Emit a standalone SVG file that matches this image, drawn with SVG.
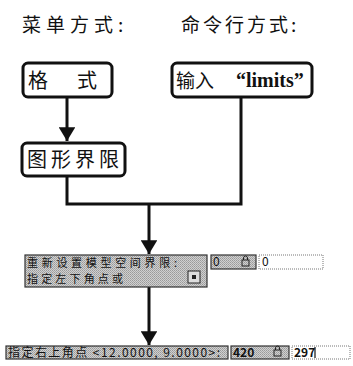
<svg xmlns="http://www.w3.org/2000/svg" width="353" height="366" viewBox="0 0 353 366">
<defs>
<style>
.t{font-family:"Noto Sans CJK SC","Liberation Serif",serif;fill:#111}
.box{fill:#fff;stroke:#111;stroke-width:3}
.ln{stroke:#111;stroke-width:3;fill:none}
.wbox{fill:#fff;stroke:#777;stroke-width:1;stroke-dasharray:1 1}
.s{font-family:"Noto Sans CJK SC","Liberation Sans",sans-serif;fill:#111}
</style>
<pattern id="dots" width="2" height="2" patternUnits="userSpaceOnUse">
<rect width="2" height="2" fill="#d0d0d0"/><rect width="1" height="1" fill="#9a9a9a"/><rect x="1" y="1" width="1" height="1" fill="#a8a8a8"/>
</pattern>
<marker id="ah" viewBox="0 0 10 12" refX="10" refY="6" markerWidth="5.5" markerHeight="5.5" orient="auto" markerUnits="strokeWidth">
<path d="M0,0 L10,6 L0,12 Z" fill="#111"/>
</marker>
</defs>
<rect width="353" height="366" fill="#fff"/>
<g id="titles">
<text class="t" x="22" y="32" font-size="19" letter-spacing="5">菜单方式:</text>
<text class="t" x="181" y="32" font-size="19" letter-spacing="3">命令行方式:</text>
</g>
<g id="connectors">
<line class="ln" x1="67" y1="97" x2="67" y2="141" marker-end="url(#ah)"/>
<polyline class="ln" points="67,176 67,204 241,204 241,97"/>
<line class="ln" x1="149" y1="204" x2="149" y2="254" marker-end="url(#ah)"/>
<line class="ln" x1="149" y1="287" x2="149" y2="345" marker-end="url(#ah)"/>
</g>
<g id="node-format">
<rect class="box" x="23" y="63" width="89" height="34" rx="5"/>
<text class="t" x="28" y="88" font-size="20">格</text>
<text class="t" x="77" y="88" font-size="20">式</text>
</g>
<g id="node-limits">
<rect class="box" x="172" y="63" width="140" height="34" rx="5"/>
<text class="t" x="176" y="88" font-size="19">输入</text>
<text x="236" y="87" font-family="Liberation Serif,serif" font-weight="bold" font-size="20" fill="#111">“limits”</text>
</g>
<g id="node-tuxing">
<rect class="box" x="22" y="143" width="103" height="33" rx="5"/>
<text class="t" x="27" y="167" font-size="20" letter-spacing="4">图形界限</text>
</g>
<g id="panel1">
<rect x="25" y="255" width="182" height="32" fill="url(#dots)" stroke="#333" stroke-width="1.2"/>
<text class="s" x="27" y="267" font-size="11" textLength="150" lengthAdjust="spacing">重新设置模型空间界限:</text>
<text class="s" x="27" y="283" font-size="11" textLength="96" lengthAdjust="spacing">指定左下角点或</text>
<rect x="188" y="271" width="12" height="12" fill="#ddd" stroke="#222" stroke-width="1"/>
<rect x="192" y="275" width="4" height="4" fill="#222"/>
<rect x="211" y="255" width="45" height="14" fill="url(#dots)" stroke="#333" stroke-width="1.2"/>
<text class="s" x="213" y="266" font-size="12">0</text>
<rect x="242" y="260" width="7" height="6" fill="none" stroke="#222" stroke-width="1"/>
<path d="M243.5,260 v-2 a2,2 0 0 1 4,0 v2" fill="none" stroke="#222" stroke-width="1"/>
<rect class="wbox" x="259" y="255" width="64" height="14"/>
<text class="s" x="262" y="266" font-size="12">0</text>
</g>
<g id="panel2">
<rect x="6" y="346" width="222" height="13" fill="url(#dots)" stroke="#333" stroke-width="1.2"/>
<text class="s" x="8" y="357" font-size="12" textLength="212" lengthAdjust="spacing">指定右上角点 &lt;12.0000, 9.0000&gt;:</text>
<rect x="231" y="346" width="58" height="13" fill="url(#dots)" stroke="#333" stroke-width="1.2"/>
<text class="s" x="233" y="357" font-size="12" font-weight="bold">420</text>
<rect x="274" y="350" width="7" height="6" fill="none" stroke="#222" stroke-width="1"/>
<path d="M275.5,350 v-2 a2,2 0 0 1 4,0 v2" fill="none" stroke="#222" stroke-width="1"/>
<rect class="wbox" x="292" y="346" width="58" height="13"/>
<text class="s" x="294" y="357" font-size="12" font-weight="bold">297</text>
<line x1="315" y1="347" x2="315" y2="358" stroke="#111" stroke-width="1.2"/>
</g>
</svg>
